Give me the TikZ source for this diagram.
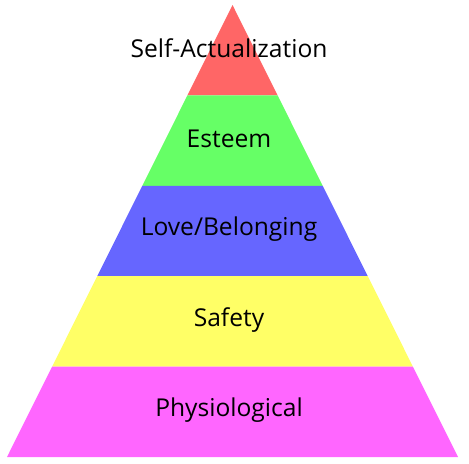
\documentclass[tikz,border=0pt]{standalone}
\usepackage{fontspec}
\setmainfont{Open Sans}
\usepackage{tikz}
\usetikzlibrary{positioning, calc}

\definecolor{levelred}{HTML}{FF6666}
\definecolor{levelgreen}{HTML}{66FF66}
\definecolor{levelblue}{HTML}{6666FF}
\definecolor{levelyellow}{HTML}{FFFF66}
\definecolor{levelpink}{HTML}{FF66FF}

\begin{document}
\begin{tikzpicture}[x=0.02cm, y=-0.02cm,
    level/.style={font=\fontsize{14}{16}\selectfont, text=black, inner sep=0pt}]
    % Canvas
    \useasboundingbox (0,0) rectangle (469,463);

    % Corners of the pyramid
    \coordinate (apex) at (232.5,5);
    \coordinate (bl) at (7,457);
    \coordinate (br) at (458,457);

    % Level boundaries on the two sides
    \coordinate (l1) at ($(apex)!0.2!(bl)$);
    \coordinate (r1) at ($(apex)!0.2!(br)$);
    \coordinate (l2) at ($(apex)!0.4!(bl)$);
    \coordinate (r2) at ($(apex)!0.4!(br)$);
    \coordinate (l3) at ($(apex)!0.6!(bl)$);
    \coordinate (r3) at ($(apex)!0.6!(br)$);
    \coordinate (l4) at ($(apex)!0.8!(bl)$);
    \coordinate (r4) at ($(apex)!0.8!(br)$);

    % Levels, top to bottom
    \fill[levelred] (apex) -- (r1) -- (l1) -- cycle;
    \fill[levelgreen] (l1) -- (r1) -- (r2) -- (l2) -- cycle;
    \fill[levelblue] (l2) -- (r2) -- (r3) -- (l3) -- cycle;
    \fill[levelyellow] (l3) -- (r3) -- (r4) -- (l4) -- cycle;
    \fill[levelpink] (l4) -- (r4) -- (br) -- (bl) -- cycle;

    % Labels
    \node[level] (selfact) at (229,48) {Self-Actualization};
    \node[level] (esteem) at (229,139) {Esteem};
    \node[level] (love) at (229,229) {Love/Belonging};
    \node[level] (safety) at (229,320) {Safety};
    \node[level] (physio) at (229,410) {Physiological};

\end{tikzpicture}
\end{document}
